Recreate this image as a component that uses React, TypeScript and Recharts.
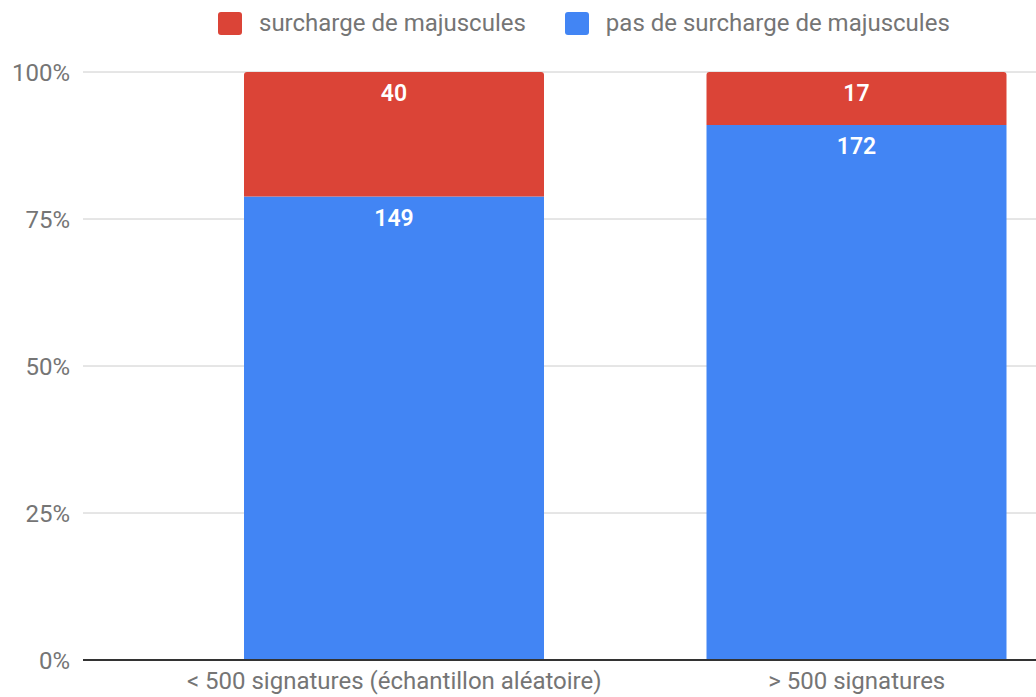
import { BarChart, Bar, XAxis, YAxis, CartesianGrid, Legend, LabelList } from "recharts";

const categories = ["< 500 signatures (échantillon aléatoire)", "> 500 signatures"];
const surcharge = [40, 17];
const pasSurcharge = [149, 172];
const yTicks = [0, 0.25, 0.5, 0.75, 1];

const RED = "#DB4437";
const BLUE = "#4285F4";
const GREY = "#757575";
const FONT = "Roboto, sans-serif";

const data = categories.map((name, i) => ({
  name,
  surcharge: surcharge[i],
  pas: pasSurcharge[i],
}));

const legendItems = [
  { label: "surcharge de majuscules", color: RED, gap: 39 },
  { label: "pas de surcharge de majuscules", color: BLUE, gap: 0 },
];

const renderLegend = () => (
  <div
    style={{
      display: "flex",
      alignItems: "center",
      height: 24,
      paddingLeft: 218,
      fontFamily: FONT,
      fontSize: 24,
      color: GREY,
      whiteSpace: "nowrap",
    }}
  >
    {legendItems.map((item) => (
      <span key={item.label} style={{ display: "flex", alignItems: "center", marginRight: item.gap }}>
        <span
          style={{
            display: "inline-block",
            width: 24,
            height: 23,
            borderRadius: 3,
            background: item.color,
            marginRight: 17,
          }}
        />
        <span style={{ lineHeight: "24px" }}>{item.label}</span>
      </span>
    ))}
  </div>
);

export default function App() {
  return (
    <div
      style={{
        position: "absolute",
        left: 0,
        top: 0,
        width: 1036,
        height: 697,
        overflow: "hidden",
        background: "#fff",
      }}
    >
      <BarChart
        width={1100}
        height={697}
        data={data}
        stackOffset="expand"
        margin={{ top: 48, right: 12, bottom: 0, left: 0 }}
      >
        <CartesianGrid vertical={false} stroke="#cccccc" />
        <XAxis
          dataKey="name"
          height={37}
          padding={{ left: 80, right: 0 }}
          tickLine={false}
          axisLine={{ stroke: "#333333", strokeWidth: 2 }}
          tickMargin={6}
          tick={{ fill: GREY, fontSize: 24, fontFamily: FONT }}
        />
        <YAxis
          width={83}
          domain={[0, 1]}
          ticks={yTicks}
          tickFormatter={(v: number) => `${Math.round(v * 100)}%`}
          tickLine={false}
          axisLine={false}
          tickMargin={7}
          tick={{ fill: GREY, fontSize: 24, fontFamily: FONT }}
        />
        <Legend
          verticalAlign="top"
          align="left"
          content={renderLegend}
          wrapperStyle={{ top: 11, left: 0, height: 24 }}
        />
        <Bar dataKey="pas" stackId="a" fill={BLUE} barSize={300} isAnimationActive={false}>
          <LabelList
            dataKey="pas"
            position="insideTop"
            offset={13}
            fill="#ffffff"
            fontSize={23}
            fontWeight={600}
            fontFamily={FONT}
          />
        </Bar>
        <Bar dataKey="surcharge" stackId="a" fill={RED} barSize={300} radius={[3, 3, 0, 0]} isAnimationActive={false}>
          <LabelList
            dataKey="surcharge"
            position="insideTop"
            offset={13}
            fill="#ffffff"
            fontSize={23}
            fontWeight={600}
            fontFamily={FONT}
          />
        </Bar>
      </BarChart>
    </div>
  );
}
